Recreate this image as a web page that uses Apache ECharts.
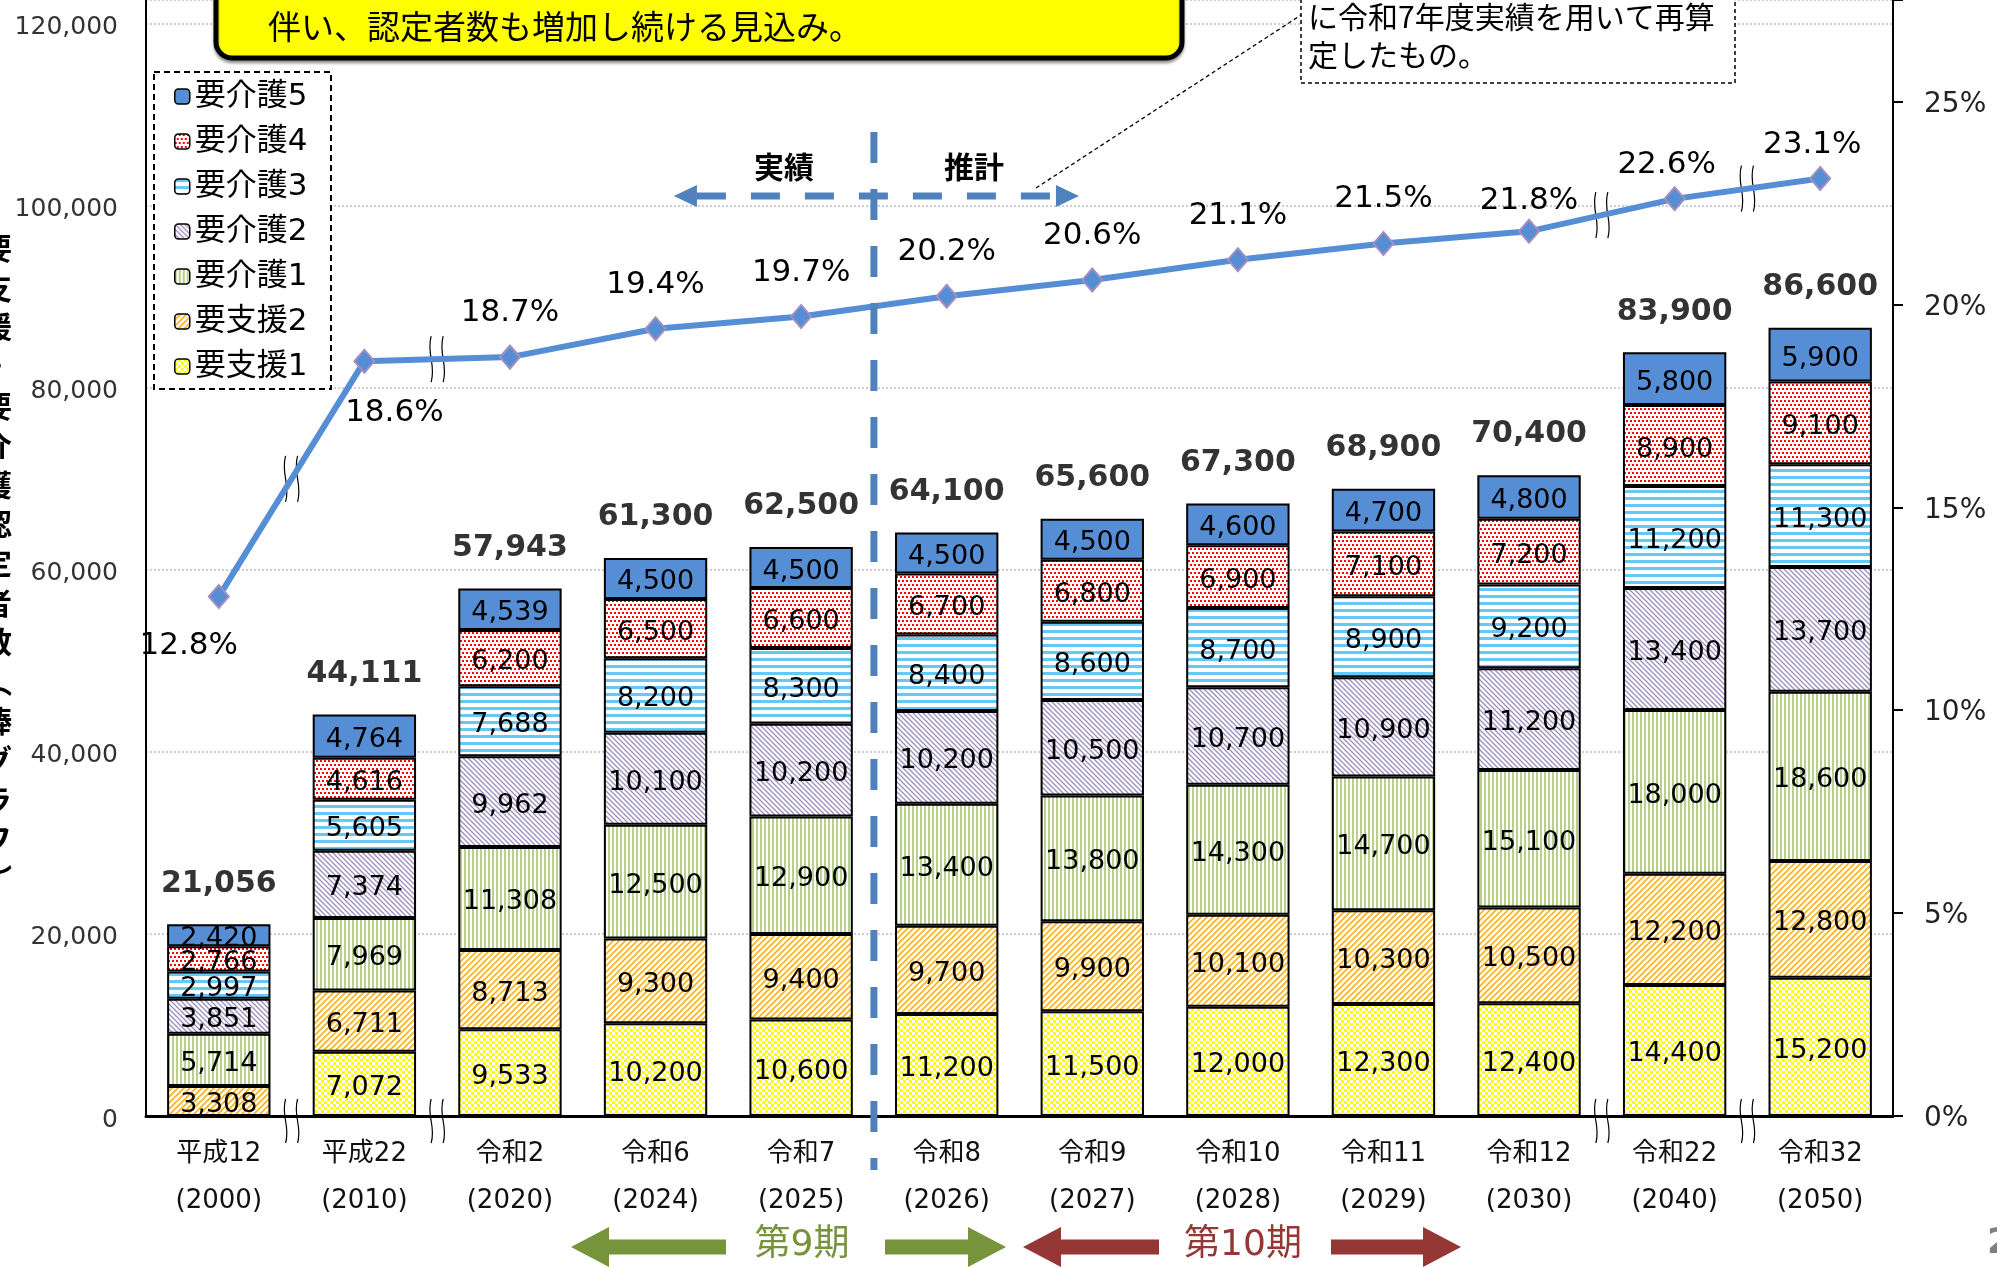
<!DOCTYPE html>
<html>
<head>
<meta charset="utf-8">
<script src="https://cdn.jsdelivr.net/npm/echarts@6/dist/echarts.min.js"></script>
<style>
  html, body { margin: 0; padding: 0; background: #fff; }
  #chart { width: 1997px; height: 1267px; }
</style>
</head>
<body>
<div id="chart"></div>
<script>
// 年度
const categories = [
  '平成12\n(2000)', '平成22\n(2010)', '令和2\n(2020)', '令和6\n(2024)',
  '令和7\n(2025)', '令和8\n(2026)', '令和9\n(2027)', '令和10\n(2028)',
  '令和11\n(2029)', '令和12\n(2030)', '令和22\n(2040)', '令和32\n(2050)'
]

// 認定者数（人）
const yoshien1 = [null, 7072, 9533, 10200, 10600, 11200, 11500, 12000, 12300, 12400, 14400, 15200]
const yoshien2 = [3308, 6711, 8713, 9300, 9400, 9700, 9900, 10100, 10300, 10500, 12200, 12800]
const kaigo1 = [5714, 7969, 11308, 12500, 12900, 13400, 13800, 14300, 14700, 15100, 18000, 18600]
const kaigo2 = [3851, 7374, 9962, 10100, 10200, 10200, 10500, 10700, 10900, 11200, 13400, 13700]
const kaigo3 = [2997, 5605, 7688, 8200, 8300, 8400, 8600, 8700, 8900, 9200, 11200, 11300]
const kaigo4 = [2766, 4616, 6200, 6500, 6600, 6700, 6800, 6900, 7100, 7200, 8900, 9100]
const kaigo5 = [2420, 4764, 4539, 4500, 4500, 4500, 4500, 4600, 4700, 4800, 5800, 5900]
const totals = [21056, 44111, 57943, 61300, 62500, 64100, 65600, 67300, 68900, 70400, 83900, 86600]

// 認定率（％）
const ratio = [12.8, 18.6, 18.7, 19.4, 19.7, 20.2, 20.6, 21.1, 21.5, 21.8, 22.6, 23.1]

// 軸目盛
const leftTicks = [0, 20000, 40000, 60000, 80000, 100000, 120000]
const rightTicks = [0, 5, 10, 15, 20, 25]

const NUM_FONT = "'DejaVu Sans', 'Noto Sans CJK JP', sans-serif"
const JP_FONT = "'Noto Sans CJK JP', sans-serif"
const fmt = v => Number(v).toLocaleString('en-US')

function pattern(w, h, draw) {
  const c = document.createElement('canvas')
  c.width = w
  c.height = h
  const g = c.getContext('2d')
  g.fillStyle = '#fff'
  g.fillRect(0, 0, w, h)
  draw(g)
  return { image: c, repeat: 'repeat' }
}

const patYoshien1 = pattern(6, 6, g => {
  g.fillStyle = '#FFFF00'
  g.fillRect(3, 0, 3, 3)
  g.fillRect(0, 3, 3, 3)
})
const patYoshien2 = pattern(6, 6, g => {
  g.strokeStyle = '#FFB020'
  g.lineWidth = 1.6
  g.beginPath()
  g.moveTo(-1, 7); g.lineTo(7, -1)
  g.moveTo(-1, 1); g.lineTo(1, -1)
  g.moveTo(5, 7); g.lineTo(7, 5)
  g.stroke()
})
const patKaigo1 = pattern(4, 4, g => {
  g.fillStyle = '#B9CF8C'
  g.fillRect(0, 0, 2, 4)
})
const patKaigo2 = pattern(5, 5, g => {
  g.strokeStyle = '#9C8FC0'
  g.lineWidth = 1.3
  g.beginPath()
  g.moveTo(-1, -1); g.lineTo(6, 6)
  g.moveTo(-1, 4); g.lineTo(1, 6)
  g.moveTo(4, -1); g.lineTo(6, 1)
  g.stroke()
})
const patKaigo3 = pattern(8, 7, g => {
  g.fillStyle = '#66C8F5'
  g.fillRect(0, 0, 8, 3)
})
const patKaigo4 = pattern(8, 8, g => {
  g.fillStyle = '#FF0000'
  g.fillRect(0, 0, 2, 2)
  g.fillRect(4, 0, 2, 2)
  g.fillRect(2, 4, 2, 2)
  g.fillRect(6, 4, 2, 2)
})

const barDefs = [
  { name: '要支援1', data: yoshien1, color: patYoshien1 },
  { name: '要支援2', data: yoshien2, color: patYoshien2 },
  { name: '要介護1', data: kaigo1, color: patKaigo1 },
  { name: '要介護2', data: kaigo2, color: patKaigo2 },
  { name: '要介護3', data: kaigo3, color: patKaigo3 },
  { name: '要介護4', data: kaigo4, color: patKaigo4 },
  { name: '要介護5', data: kaigo5, color: '#558ED5' }
]

// 率ラベルの位置調整
const ratioLabelFix = {
  0: { position: 'bottom', distance: 21, offset: [-30, 0] },
  1: { position: 'bottom', distance: 24, offset: [30, 0] },
  9: { offset: [0, 14] },
  10: { offset: [-8, 10] },
  11: { offset: [-8, 10] }
}

const chart = echarts.init(document.getElementById('chart'))

const barSeries = barDefs.map(d => ({
  name: d.name,
  type: 'bar',
  stack: 'total',
  data: d.data,
  barWidth: '71%',
  itemStyle: { color: d.color, borderColor: '#000', borderWidth: 2 },
  label: {
    show: true,
    position: 'inside',
    offset: [0, 4],
    fontSize: 27,
    fontFamily: NUM_FONT,
    color: '#000',
    formatter: p => (p.value ? fmt(p.value) : '')
  },
  emphasis: { disabled: true },
  z: 2
}))

const option = {
  animation: false,
  backgroundColor: '#fff',
  grid: { left: 146, right: 104, top: 0, bottom: 151, outerBoundsMode: 'none' },
  legend: {
    orient: 'vertical',
    left: 174,
    top: 81,
    itemWidth: 15,
    itemHeight: 15,
    itemGap: 14,
    padding: 0,
    selectedMode: false,
    data: ['要介護5', '要介護4', '要介護3', '要介護2', '要介護1', '要支援2', '要支援1'],
    textStyle: { fontSize: 31, fontFamily: NUM_FONT, color: '#000', lineHeight: 31 },
    itemStyle: { borderColor: '#000', borderWidth: 1.5 },
    z: 6
  },
  xAxis: {
    type: 'category',
    data: categories,
    axisLine: { lineStyle: { color: '#000', width: 3 } },
    axisTick: { show: false },
    axisLabel: {
      interval: 0,
      fontSize: 26,
      lineHeight: 47,
      margin: 15,
      color: '#111',
      fontFamily: NUM_FONT
    }
  },
  yAxis: [
    {
      type: 'value',
      min: 0,
      max: 122600,
      interval: 20000,
      axisLine: { show: true, lineStyle: { color: '#000', width: 2 } },
      axisTick: { show: false },
      axisLabel: {
        margin: 28,
        formatter: v => (leftTicks.includes(v) ? '{t|' + fmt(v) + '}' : ''),
        rich: {
          t: { fontSize: 25, fontFamily: NUM_FONT, color: '#333', padding: [8, 0, 0, 0] }
        }
      },
      splitLine: { show: true, lineStyle: { type: 'dotted', color: '#cfcfcf', width: 2 } }
    },
    {
      type: 'value',
      position: 'right',
      min: 0,
      max: 27.5,
      interval: 5,
      axisLine: { show: true, lineStyle: { color: '#000', width: 2 } },
      axisTick: { show: true, inside: false, length: 10, lineStyle: { color: '#000', width: 2 } },
      axisLabel: {
        margin: 31,
        formatter: v => (rightTicks.includes(v) ? '{t|' + v + '%}' : ''),
        rich: {
          t: { fontSize: 28, fontFamily: NUM_FONT, color: '#222', padding: [6, 0, 0, 0] }
        }
      },
      splitLine: { show: false }
    }
  ],
  series: [
    ...barSeries,
    {
      name: '合計',
      type: 'scatter',
      data: totals,
      symbol: 'rect',
      symbolSize: 1,
      itemStyle: { color: 'rgba(0,0,0,0)' },
      label: {
        show: true,
        position: 'top',
        distance: 25,
        fontSize: 30,
        fontWeight: 'bold',
        fontFamily: NUM_FONT,
        color: '#000',
        formatter: p => fmt(p.value)
      },
      silent: true,
      z: 6
    },
    {
      name: '認定率',
      type: 'line',
      yAxisIndex: 1,
      data: ratio.map((v, i) => (ratioLabelFix[i] ? { value: v, label: ratioLabelFix[i] } : v)),
      symbol: 'diamond',
      symbolSize: [20, 23],
      lineStyle: { color: '#558ED5', width: 6 },
      itemStyle: { color: '#558ED5', borderColor: '#A48FBE', borderWidth: 2 },
      label: {
        show: true,
        position: 'top',
        distance: 16,
        fontSize: 31,
        fontFamily: NUM_FONT,
        color: '#000',
        formatter: p => p.value.toFixed(1) + '%'
      },
      emphasis: { disabled: true },
      z: 10
    }
  ]
}

chart.setOption(option)

// 補助図形
const lineIdx = option.series.length - 1
const pt = i => chart.convertToPixel({ seriesIndex: lineIdx }, [i, ratio[i]])
const cx = i => chart.convertToPixel({ xAxisIndex: 0 }, i)
const baseY = chart.convertToPixel({ yAxisIndex: 0 }, 0)

function breakMark(x, y, h) {
  const hh = h / 2
  const wave = dx => ({
    type: 'bezierCurve',
    shape: { x1: dx, y1: -hh, x2: dx, y2: hh, cpx1: dx - 5, cpy1: -hh * 0.2, cpx2: dx + 5, cpy2: hh * 0.2 },
    style: { stroke: '#000', lineWidth: 1.2, fill: null }
  })
  return {
    type: 'group',
    x: x,
    y: y,
    z: 15,
    children: [
      { type: 'rect', shape: { x: -6, y: -hh, width: 12, height: h }, style: { fill: '#fff' } },
      wave(-6),
      wave(6)
    ]
  }
}

const breaks = []
;[[0, 1], [1, 2], [9, 10], [10, 11]].forEach(([a, b]) => {
  const pa = pt(a)
  const pb = pt(b)
  breaks.push(breakMark((pa[0] + pb[0]) / 2, (pa[1] + pb[1]) / 2, 46))
  breaks.push(breakMark((cx(a) + cx(b)) / 2, baseY + 5, 44))
})

const vx = (cx(4) + cx(5)) / 2
const arrowY = 196
const blue = '#4F81BD'

function blockArrow(tip, base, end, cy, color) {
  const hh = 20
  const sh = 7.5
  return {
    type: 'polygon',
    z: 5,
    shape: {
      points: [
        [tip, cy], [base, cy - hh], [base, cy - sh], [end, cy - sh],
        [end, cy + sh], [base, cy + sh], [base, cy + hh]
      ]
    },
    style: { fill: color }
  }
}

const yTitle = '要支援・要介護認定者数︵棒グラフ︶'.split('').join('\n')

chart.setOption({
  graphic: [
    // 上部の黄色い枠
    {
      type: 'rect', z: 3,
      shape: { x: 216, y: -70, width: 966, height: 128, r: 16 },
      style: { fill: '#FFFF00', stroke: '#000', lineWidth: 5, shadowBlur: 3, shadowOffsetY: 3, shadowColor: 'rgba(0,0,0,0.35)' }
    },
    {
      type: 'text', z: 4, x: 268, y: 26,
      style: { text: '伴い、認定者数も増加し続ける見込み。', font: '33px ' + JP_FONT, fill: '#000', textVerticalAlign: 'middle' }
    },
    // 右上の注記
    {
      type: 'rect', z: 3,
      shape: { x: 1301, y: -40, width: 434, height: 123 },
      style: { fill: '#fff', stroke: '#000', lineWidth: 1.5, lineDash: [4, 3] }
    },
    {
      type: 'text', z: 4, x: 1308, y: 17,
      style: { text: 'に令和7年度実績を用いて再算', font: '30px ' + JP_FONT, fill: '#000', textVerticalAlign: 'middle' }
    },
    {
      type: 'text', z: 4, x: 1308, y: 55,
      style: { text: '定したもの。', font: '30px ' + JP_FONT, fill: '#000', textVerticalAlign: 'middle' }
    },
    {
      type: 'line', z: 4,
      shape: { x1: 1036, y1: 188, x2: 1301, y2: 15 },
      style: { stroke: '#000', lineWidth: 1.3, lineDash: [4, 3] }
    },
    // 凡例の枠
    {
      type: 'rect', z: 3,
      shape: { x: 154, y: 72, width: 177, height: 317 },
      style: { fill: '#fff', stroke: '#000', lineWidth: 2, lineDash: [6, 4] }
    },
    // 縦軸タイトル
    {
      type: 'text', z: 4, x: -3, y: 563,
      style: {
        text: yTitle, font: 'bold 30px ' + JP_FONT, fill: '#000',
        textAlign: 'center', textVerticalAlign: 'middle', lineHeight: 39.4
      }
    },
    // 実績／推計の区切り
    {
      type: 'line', z: 12,
      shape: { x1: vx, y1: 132, x2: vx, y2: 1170 },
      style: { stroke: blue, lineWidth: 7, lineDash: [31, 26] }
    },
    {
      type: 'line', z: 12,
      shape: { x1: vx - 177, y1: arrowY, x2: vx + 182, y2: arrowY },
      style: { stroke: blue, lineWidth: 7, lineDash: [29, 25] }
    },
    {
      type: 'polygon', z: 12,
      shape: { points: [[vx - 200, arrowY], [vx - 177, arrowY - 11], [vx - 177, arrowY + 11]] },
      style: { fill: blue }
    },
    {
      type: 'polygon', z: 12,
      shape: { points: [[vx + 205, arrowY], [vx + 182, arrowY - 11], [vx + 182, arrowY + 11]] },
      style: { fill: blue }
    },
    {
      type: 'text', z: 12, x: vx - 90, y: 167,
      style: { text: '実績', font: 'bold 30px ' + JP_FONT, fill: '#000', textAlign: 'center', textVerticalAlign: 'middle' }
    },
    {
      type: 'text', z: 12, x: vx + 100, y: 167,
      style: { text: '推計', font: 'bold 30px ' + JP_FONT, fill: '#000', textAlign: 'center', textVerticalAlign: 'middle' }
    },
    // 第9期・第10期
    blockArrow(571, 609, 726, 1247, '#77933C'),
    blockArrow(1006, 968, 885, 1247, '#77933C'),
    {
      type: 'text', z: 5, x: 802, y: 1246,
      style: { text: '第9期', font: '36px ' + NUM_FONT, fill: '#77933C', textAlign: 'center', textVerticalAlign: 'middle' }
    },
    blockArrow(1023, 1061, 1159, 1247, '#953735'),
    blockArrow(1461, 1423, 1331, 1247, '#953735'),
    {
      type: 'text', z: 5, x: 1243, y: 1246,
      style: { text: '第10期', font: '36px ' + NUM_FONT, fill: '#953735', textAlign: 'center', textVerticalAlign: 'middle' }
    },
    {
      type: 'text', z: 5, x: 1987, y: 1244,
      style: { text: '2', font: 'bold 36px ' + NUM_FONT, fill: '#808080', textVerticalAlign: 'middle' }
    },
    ...breaks
  ]
})
</script>
</body>
</html>
